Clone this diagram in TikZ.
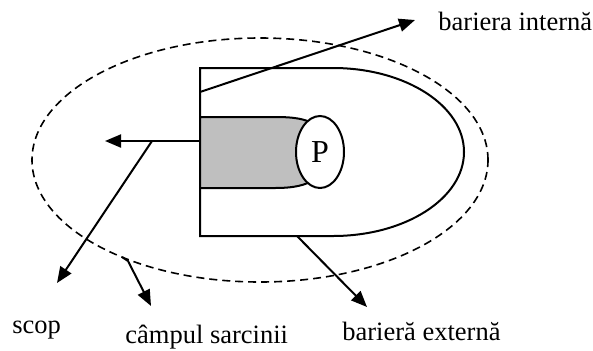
\documentclass[tikz,border=0pt]{standalone}
\usepackage{fontspec}
\setmainfont{Liberation Serif}
\usetikzlibrary{arrows.meta, shapes.geometric}

\tikzset{
  contur/.style={line width=1pt},
  sageata/.style={line width=1pt, -{Triangle[length=8pt, width=6.5pt]}},
  eticheta/.style={anchor=base west, inner sep=0pt, font=\fontsize{13.25}{16}\selectfont},
}

\begin{document}
\begin{tikzpicture}[x=0.5pt, y=0.5pt]
        \useasboundingbox (0,0) rectangle (593,350);

        % Campul sarcinii (elipsa punctata)
        \draw[line width=0.8pt, dash pattern=on 4pt off 2.5pt] (260,190) ellipse [x radius=228, y radius=122];

        % Bariera externa
        \coordinate (JS) at (200,114);
        \coordinate (SS) at (200,282);
        \draw[contur] (333,114) -- (JS) -- (SS) -- (333,282)
              arc[start angle=90, end angle=-90, x radius=131, y radius=84];

        % Bariera interna (zona gri)
        \draw[contur, fill=gray!50] (200,162) -- (200,233) -- (275,233)
              .. controls (295,233) and (305,231) .. (314,226) -- (314,170)
              .. controls (305,165) and (295,162) .. (275,162) -- cycle;

        % Punctul P
        \node[ellipse, draw, contur, fill=white, minimum width=24pt, minimum height=36pt,
              inner sep=0pt, font=\fontsize{16}{18}\selectfont] (P) at (320,198) {P};

        % Etichete
        \node[eticheta] (interna) at (438,320) {bariera internă};
        \node[eticheta] (scop) at (12,17) {scop};
        \node[eticheta] (camp) at (125,7) {câmpul sarcinii};
        \node[eticheta] (externa) at (342,10) {barieră externă};

        % Sageti
        \coordinate (I0) at (200,258);
        \coordinate (I1) at (415,330);
        \draw[sageata] (I0) -- (I1);

        \coordinate (G0) at (200,209);
        \coordinate (G1) at (105,209);
        \coordinate (G2) at (152,209);
        \draw[sageata] (G0) -- (G1);

        \coordinate (S1) at (57,67);
        \draw[sageata] (G2) -- (S1);

        \coordinate (C0) at (122,93);
        \coordinate (C1) at (128,89);
        \coordinate (C2) at (151,44);
        \draw[sageata] (C0) -- (C1) -- (C2);

        \coordinate (E0) at (297,114);
        \coordinate (E1) at (367,43);
        \draw[sageata] (E0) -- (E1);
\end{tikzpicture}
\end{document}
